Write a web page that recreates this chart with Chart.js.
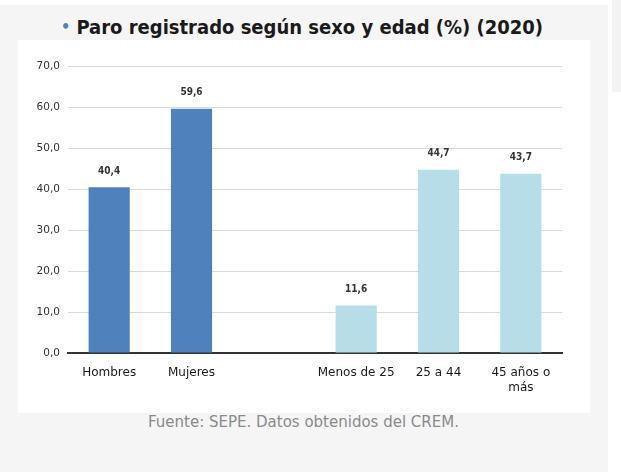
<!DOCTYPE html>
<html>
<head>
<meta charset="utf-8">
<script src="https://cdn.jsdelivr.net/npm/chart.js@4"></script>
<style>
  body { margin: 0; background: #fff; width: 621px; height: 472px; overflow: hidden; position: relative; font-family: "DejaVu Sans", sans-serif; }
  #panel { position: absolute; left: 0; top: 5px; width: 608px; height: 467px; background: #f5f5f5; }
  #side { position: absolute; left: 612px; top: 0; width: 9px; height: 92px; background: #f3f3f3; }
  #title { position: absolute; left: 0; top: 15px; width: 604px; text-align: center; font: bold 20px "DejaVu Sans Condensed", sans-serif; color: #1a1a1a; }
  #title .dot { color: #4f81bd; font-size: 16px; vertical-align: 2px; }
  #box { position: absolute; left: 18px; top: 40px; width: 572px; height: 373px; background: #fff; }
  #source { position: absolute; left: 148px; top: 413px; font: 15px "DejaVu Sans", sans-serif; color: #8a8a8a; }
</style>
</head>
<body>
<div id="panel"></div>
<div id="side"></div>
<div id="title"><span class="dot">&bull;</span> Paro registrado según sexo y edad (%) (2020)</div>
<div id="box"><canvas id="chart" width="572" height="373"></canvas></div>
<div id="source">Fuente: SEPE. Datos obtenidos del CREM.</div>
<script>
const categories = ["Hombres", "Mujeres", "", "Menos de 25", "25 a 44", ["45 años o", "más"]];
const values = [40.4, 59.6, null, 11.6, 44.7, 43.7];
const barColors = ["#4f81bd", "#4f81bd", "#4f81bd", "#b7dde8", "#b7dde8", "#b7dde8"];
const yTicks = [0, 10, 20, 30, 40, 50, 60, 70];

function fmt(v) {
  return v.toFixed(1).replace(".", ",");
}

const valueLabels = {
  id: "valueLabels",
  afterDatasetsDraw(chart) {
    const ctx = chart.ctx;
    const meta = chart.getDatasetMeta(0);
    ctx.save();
    ctx.font = "bold 10px 'DejaVu Sans Condensed', sans-serif";
    ctx.fillStyle = "#333";
    ctx.textAlign = "center";
    ctx.textBaseline = "bottom";
    meta.data.forEach((bar, i) => {
      if (values[i] == null) return;
      ctx.fillText(fmt(values[i]), bar.x, bar.y - 11);
    });
    ctx.restore();
  },
};

new Chart(document.getElementById("chart"), {
  type: "bar",
  data: {
    labels: categories,
    datasets: [{ data: values, backgroundColor: barColors, barPercentage: 0.5, categoryPercentage: 1 }],
  },
  options: {
    responsive: false,
    animation: false,
    layout: { padding: { top: 26, right: 28, left: 0, bottom: 0 } },
    plugins: { legend: { display: false }, tooltip: { enabled: false } },
    scales: {
      x: {
        grid: { display: false },
        border: { color: "#333", width: 2 },
        ticks: { color: "#1a1a1a", font: { family: "DejaVu Sans", size: 12 }, maxRotation: 0, padding: 5 },
        afterFit: (s) => { s.height = 60; },
      },
      y: {
        min: 0,
        max: 70,
        afterBuildTicks: (s) => { s.ticks = yTicks.map((v) => ({ value: v })); },
        grid: { color: "#d9d9d9", drawTicks: false },
        border: { display: false },
        ticks: { color: "#333", font: { family: "DejaVu Sans", size: 10.5 }, padding: 8, callback: (v) => fmt(v) },
        afterFit: (s) => { s.width = 50; },
      },
    },
  },
  plugins: [valueLabels],
});
</script>
</body>
</html>
